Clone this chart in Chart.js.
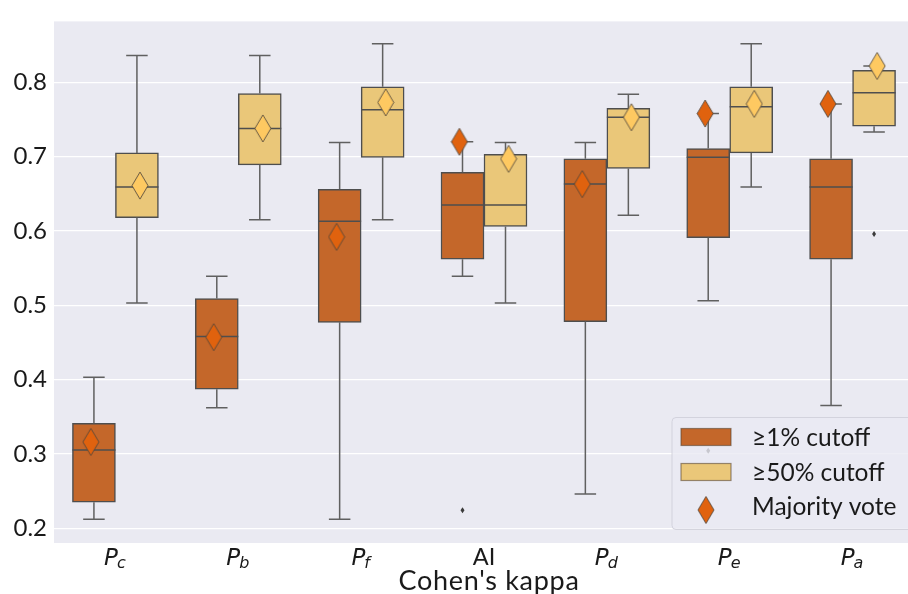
<!DOCTYPE html>
<html>
<head>
<meta charset="utf-8">
<script src="https://cdn.jsdelivr.net/npm/chart.js@4.4.0/dist/chart.umd.min.js"></script>
<style>
  html, body { margin: 0; padding: 0; overflow: hidden; background: #fff; }
  canvas { display: block; }
</style>
</head>
<body>
<canvas id="chart" width="925" height="594" style="width:925px;height:594px"></canvas>
<script>
// categories and tick labels (main letter + subscript)
const categories = ['Pc', 'Pb', 'Pf', 'AI', 'Pd', 'Pe', 'Pa'];
const tickMain = ['P', 'P', 'P', 'AI', 'P', 'P', 'P'];
const tickSub = ['c', 'b', 'f', '', 'd', 'e', 'a'];
const yTicks = [0.2, 0.3, 0.4, 0.5, 0.6, 0.7, 0.8];

// >=1% cutoff box stats
const cut1Min = [0.212, 0.362, 0.212, 0.539, 0.246, 0.506, 0.365];
const cut1Q1  = [0.235, 0.387, 0.477, 0.562, 0.478, 0.591, 0.562];
const cut1Med = [0.305, 0.458, 0.613, 0.635, 0.663, 0.699, 0.659];
const cut1Q3  = [0.341, 0.509, 0.656, 0.679, 0.697, 0.711, 0.697];
const cut1Max = [0.403, 0.539, 0.719, 0.720, 0.719, 0.758, 0.771];
const cut1Out = [[], [], [], [0.224], [], [0.304], []];

// >=50% cutoff box stats
const cut50Min = [0.503, 0.615, 0.615, 0.503, 0.621, 0.659, 0.733];
const cut50Q1  = [0.618, 0.689, 0.699, 0.606, 0.684, 0.705, 0.741];
const cut50Med = [0.659, 0.738, 0.763, 0.635, 0.753, 0.767, 0.786];
const cut50Q3  = [0.705, 0.785, 0.794, 0.703, 0.765, 0.794, 0.816];
const cut50Max = [0.836, 0.836, 0.852, 0.719, 0.784, 0.852, 0.822];
const cut50Out = [[], [], [], [], [], [], [0.596]];

// majority vote
const vote1  = [0.316, 0.457, 0.592, 0.720, 0.663, 0.758, 0.771];
const vote50 = [0.661, 0.738, 0.773, 0.697, 0.753, 0.771, 0.822];

const ORANGE = '#c4672a';
const YELLOW = '#eac779';
const D_ORANGE = '#e0620e';
const D_YELLOW = '#fec961';
const EDGE = '#4e4e4e';
const WHISK = '#606060';
const TEXT = '#1a1a1a';

function diamond(fill) {
  const c = document.createElement('canvas');
  c.width = 18; c.height = 29;
  const g = c.getContext('2d');
  g.beginPath();
  g.moveTo(9, 1); g.lineTo(17, 14.5); g.lineTo(9, 28); g.lineTo(1, 14.5);
  g.closePath();
  g.fillStyle = fill; g.fill();
  g.strokeStyle = 'rgba(80,70,60,0.85)'; g.lineWidth = 1; g.stroke();
  return c;
}

// box width: 35% of one category slot
function boxWidth(c) {
  const xs = c.chart.scales.x;
  return xs && xs.width ? xs.width / categories.length * 0.35 : 43;
}

const boxStats = {
  2: {min: cut1Min, med: cut1Med, max: cut1Max, q1: cut1Q1, q3: cut1Q3, out: cut1Out},
  3: {min: cut50Min, med: cut50Med, max: cut50Max, q1: cut50Q1, q3: cut50Q3, out: cut50Out}
};

const boxPlugin = {
  id: 'boxes',
  beforeDraw(chart) {
    const {ctx, chartArea: a} = chart;
    ctx.save();
    ctx.fillStyle = '#eaeaf2';
    ctx.fillRect(a.left, a.top, a.right - a.left, a.bottom - a.top);
    ctx.restore();
  },
  afterDatasetDraw(chart, args) {
    const s = boxStats[args.index];
    if (!s) return;
    const ctx = chart.ctx;
    const y = chart.scales.y;
    ctx.save();
    ctx.lineWidth = 1.5;
    args.meta.data.forEach((bar, i) => {
      const x = bar.x, w = bar.width;
      const yMax = y.getPixelForValue(s.max[i]), yMin = y.getPixelForValue(s.min[i]);
      // whiskers
      ctx.strokeStyle = WHISK;
      ctx.beginPath();
      ctx.moveTo(x, y.getPixelForValue(s.q3[i])); ctx.lineTo(x, yMax);
      ctx.moveTo(x - w / 4, yMax); ctx.lineTo(x + w / 4, yMax);
      ctx.moveTo(x, y.getPixelForValue(s.q1[i])); ctx.lineTo(x, yMin);
      ctx.moveTo(x - w / 4, yMin); ctx.lineTo(x + w / 4, yMin);
      ctx.stroke();
      // median
      ctx.strokeStyle = EDGE;
      ctx.beginPath();
      const my = y.getPixelForValue(s.med[i]);
      ctx.moveTo(x - w / 2, my); ctx.lineTo(x + w / 2, my);
      ctx.stroke();
      // outliers
      ctx.fillStyle = '#3c3c3c';
      s.out[i].forEach(v => {
        const oy = y.getPixelForValue(v);
        ctx.beginPath();
        ctx.moveTo(x, oy - 3); ctx.lineTo(x + 2, oy); ctx.lineTo(x, oy + 3); ctx.lineTo(x - 2, oy);
        ctx.closePath(); ctx.fill();
      });
    });
    ctx.restore();
  },
  afterDraw(chart) {
    const ctx = chart.ctx;
    const xs = chart.scales.x;
    const a = chart.chartArea;
    ctx.save();
    ctx.fillStyle = TEXT;
    ctx.textBaseline = 'alphabetic';
    // x tick labels
    categories.forEach((c, i) => {
      const cx = xs.getPixelForValue(i);
      if (!tickSub[i]) {
        ctx.font = '23.5px Lato';
        ctx.textAlign = 'center';
        ctx.fillText(tickMain[i], cx, 565);
        return;
      }
      ctx.font = 'italic 23px "DejaVu Sans"';
      const w1 = ctx.measureText(tickMain[i]).width;
      ctx.font = 'italic 16px "DejaVu Sans"';
      const w2 = ctx.measureText(tickSub[i]).width;
      const x0 = cx - (w1 + w2) / 2;
      ctx.textAlign = 'left';
      ctx.font = 'italic 23px "DejaVu Sans"';
      ctx.fillText(tickMain[i], x0, 565);
      ctx.font = 'italic 16px "DejaVu Sans"';
      ctx.fillText(tickSub[i], x0 + w1 - 1, 568);
    });

    // axis title
    ctx.font = '27px Lato';
    ctx.textAlign = 'center';
    ctx.letterSpacing = '0.7px';
    ctx.fillText("Cohen's kappa", (a.left + a.right) / 2 + 5, 590);
    ctx.letterSpacing = '0px';

    // legend
    const lx = 672, ly = 417.5, lw = 246, lh = 112;
    ctx.beginPath();
    ctx.roundRect(lx, ly, lw, lh, 4);
    ctx.fillStyle = 'rgba(234,234,242,0.8)';
    ctx.fill();
    ctx.strokeStyle = 'rgba(208,208,218,0.9)';
    ctx.lineWidth = 1;
    ctx.stroke();

    ctx.lineWidth = 1.2;
    ctx.strokeStyle = 'rgba(90,70,50,0.6)';
    ctx.fillStyle = ORANGE;
    ctx.fillRect(681, 428.5, 50, 17);
    ctx.strokeRect(681, 428.5, 50, 17);
    ctx.fillStyle = YELLOW;
    ctx.fillRect(681, 463.5, 50, 17);
    ctx.strokeRect(681, 463.5, 50, 17);
    ctx.drawImage(diamond(D_ORANGE), 706 - 9, 510 - 14.5);

    ctx.fillStyle = TEXT;
    ctx.font = '24.5px Lato';
    ctx.textAlign = 'left';
    ctx.fillText('\u22651% cutoff', 752, 446);
    ctx.fillText('\u226550% cutoff', 752, 481);
    ctx.fillText('Majority vote', 752, 515);
    ctx.restore();
  }
};

const ctx = document.getElementById('chart').getContext('2d');
new Chart(ctx, {
  type: 'bar',
  data: {
    labels: categories,
    datasets: [
      {
        type: 'scatter', label: 'Majority vote', xAxisID: 'xv', yAxisID: 'y', order: 1,
        data: vote1.map((v, i) => ({x: i - 0.2, y: v})),
        pointStyle: diamond(D_ORANGE), pointRadius: 10
      },
      {
        type: 'scatter', label: 'Majority vote 50', xAxisID: 'xv', yAxisID: 'y', order: 1,
        data: vote50.map((v, i) => ({x: i + 0.2, y: v})),
        pointStyle: diamond(D_YELLOW), pointRadius: 10
      },
      {
        label: '\u22651% cutoff', order: 2,
        data: cut1Q1.map((q, i) => [q, cut1Q3[i]]),
        backgroundColor: ORANGE, borderColor: EDGE, borderWidth: 1.5, borderSkipped: false,
        barThickness: boxWidth
      },
      {
        label: '\u226550% cutoff', order: 2,
        data: cut50Q1.map((q, i) => [q, cut50Q3[i]]),
        backgroundColor: YELLOW, borderColor: EDGE, borderWidth: 1.5, borderSkipped: false,
        barThickness: boxWidth
      }
    ]
  },
  options: {
    responsive: false,
    animation: false,
    devicePixelRatio: 1,
    layout: { padding: { top: 16, right: 2, left: 0, bottom: 0 } },
    plugins: { legend: { display: false }, tooltip: { enabled: false } },
    scales: {
      x: {
        type: 'category',
        grid: { display: false },
        border: { display: false },
        ticks: { display: false },
        afterFit: s => { s.height = 51; }
      },
      xv: {
        type: 'linear', min: -0.5, max: 6.5, display: false,
        offset: false, grid: { offset: false }
      },
      y: {
        min: 0.18, max: 0.882,
        afterBuildTicks: s => { s.ticks = yTicks.map(v => ({value: v})); },
        afterFit: s => { s.width = 54; },
        grid: { color: '#ffffff', lineWidth: 1.2, drawTicks: false },
        border: { display: false },
        ticks: {
          padding: 7, color: TEXT,
          font: { family: 'Lato', size: 24 },
          callback: v => v.toFixed(1)
        }
      }
    }
  },
  plugins: [boxPlugin]
});
</script>
</body>
</html>
